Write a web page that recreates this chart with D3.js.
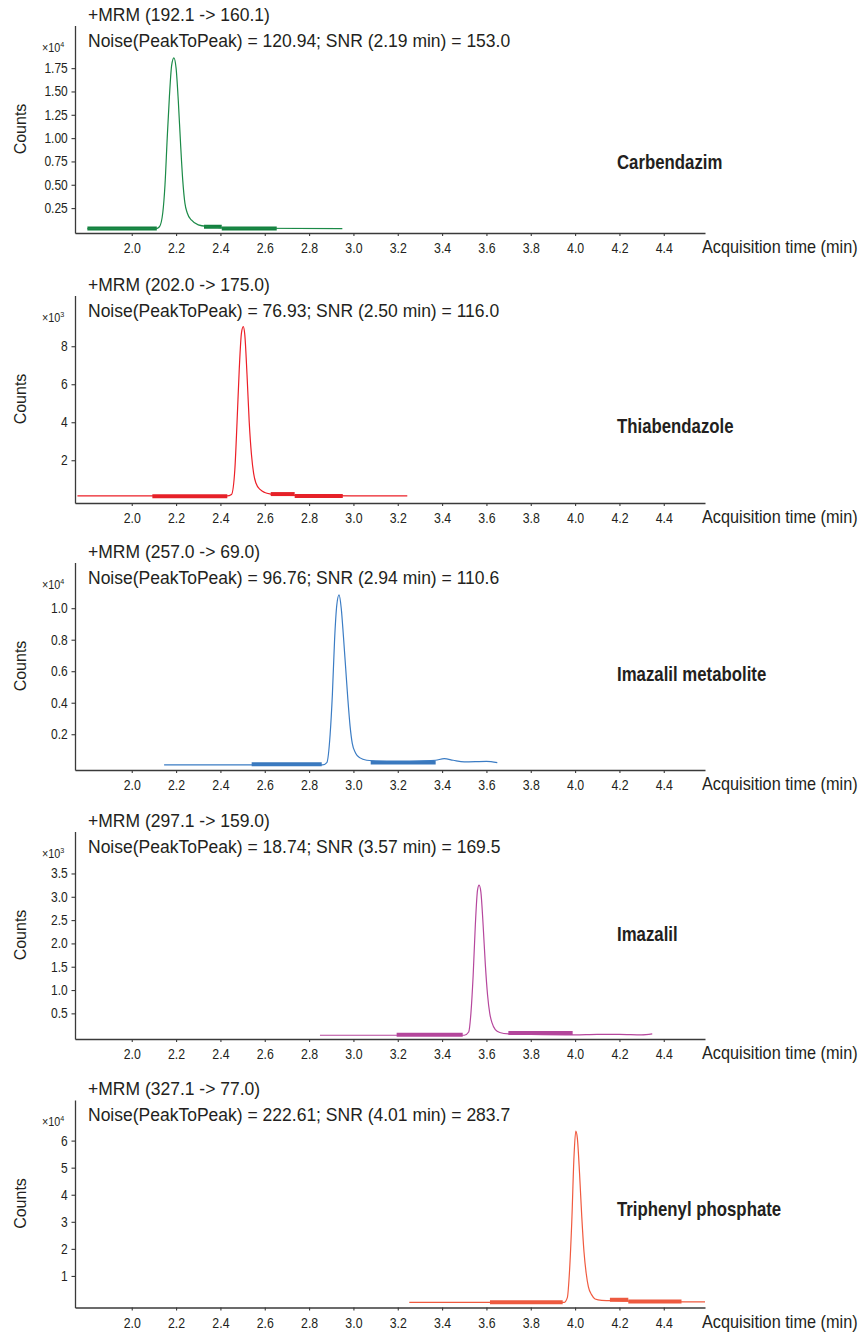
<!DOCTYPE html>
<html>
<head>
<meta charset="utf-8">
<script src="https://cdn.jsdelivr.net/npm/d3@7"></script>
<style>
  body { margin: 0; background: #fff; }
</style>
</head>
<body>
<div id="chart"></div>
<script>
// chromatogram values
const compounds = ["Carbendazim", "Thiabendazole", "Imazalil metabolite", "Imazalil", "Triphenyl phosphate"];
const transitions = ["192.1 -> 160.1", "202.0 -> 175.0", "257.0 -> 69.0", "297.1 -> 159.0", "327.1 -> 77.0"];
const noiseP2P = ["120.94", "76.93", "96.76", "18.74", "222.61"];
const snrTimes = ["2.19", "2.50", "2.94", "3.57", "4.01"];
const snrValues = ["153.0", "116.0", "110.6", "169.5", "283.7"];
const exponents = ["4", "3", "4", "3", "4"];
const colors = ["#1b8a47", "#ec1f27", "#3b7cc4", "#b6479d", "#f05a3f"];
const barColors = ["#14803f", "#e3232a", "#3a78bd", "#b3479b", "#ec5a40"];

const xTicks = [2.0, 2.2, 2.4, 2.6, 2.8, 3.0, 3.2, 3.4, 3.6, 3.8, 4.0, 4.2, 4.4];
const yTicks = [
  [0.25, 0.5, 0.75, 1.0, 1.25, 1.5, 1.75],
  [2, 4, 6, 8],
  [0.2, 0.4, 0.6, 0.8, 1.0],
  [0.5, 1.0, 1.5, 2.0, 2.5, 3.0, 3.5],
  [1, 2, 3, 4, 5, 6]
];
const yFormats = [".2f", "d", ".1f", ".1f", "d"];
const yMin = [-0.017, -0.25, -0.027, -0.05, -0.166];
const yMax = [2.207, 10.67, 1.29, 4.40, 7.50];

// traces (time in min, counts in units of the panel multiplier)
const carbendazimTime   = [1.80, 2.11, 2.125, 2.14, 2.15, 2.16, 2.17, 2.18, 2.19, 2.20, 2.21, 2.22, 2.23, 2.24, 2.25, 2.27, 2.30, 2.35, 2.45, 2.95];
const carbendazimCounts = [0.03, 0.03, 0.05, 0.2, 0.5, 1.0, 1.45, 1.78, 1.86, 1.75, 1.40, 0.95, 0.55, 0.30, 0.20, 0.12, 0.07, 0.05, 0.035, 0.03];
const thiabendazoleTime   = [1.755, 2.43, 2.45, 2.465, 2.475, 2.485, 2.495, 2.503, 2.51, 2.52, 2.53, 2.54, 2.55, 2.56, 2.58, 2.60, 2.63, 2.70, 3.243];
const thiabendazoleCounts = [0.12, 0.12, 0.2, 1.5, 4.0, 6.8, 8.7, 9.03, 8.6, 6.5, 4.0, 2.3, 1.3, 0.8, 0.45, 0.3, 0.22, 0.15, 0.12];
const metaboliteTime   = [2.146, 2.86, 2.88, 2.895, 2.905, 2.915, 2.925, 2.935, 2.945, 2.955, 2.965, 2.975, 2.985, 2.995, 3.01, 3.03, 3.06, 3.10, 3.20, 3.30, 3.37, 3.41, 3.45, 3.50, 3.60, 3.649];
const metaboliteCounts = [0.005, 0.005, 0.02, 0.2, 0.45, 0.8, 1.02, 1.084, 1.0, 0.82, 0.62, 0.42, 0.25, 0.14, 0.08, 0.05, 0.035, 0.03, 0.025, 0.03, 0.035, 0.045, 0.035, 0.025, 0.028, 0.02];
const imazalilTime   = [2.849, 3.50, 3.52, 3.53, 3.54, 3.55, 3.56, 3.567, 3.575, 3.585, 3.595, 3.605, 3.615, 3.625, 3.64, 3.66, 3.70, 3.80, 4.00, 4.10, 4.20, 4.30, 4.348];
const imazalilCounts = [0.03, 0.03, 0.1, 0.5, 1.3, 2.4, 3.15, 3.25, 3.1, 2.4, 1.55, 0.9, 0.5, 0.3, 0.15, 0.09, 0.06, 0.05, 0.04, 0.05, 0.05, 0.04, 0.06];
const tppTime   = [3.252, 3.95, 3.965, 3.975, 3.985, 3.995, 4.003, 4.01, 4.02, 4.03, 4.04, 4.05, 4.06, 4.075, 4.09, 4.12, 4.20, 4.30, 4.50, 4.586];
const tppCounts = [0.02, 0.02, 0.2, 1.2, 3.0, 5.4, 6.35, 6.1, 4.8, 3.2, 1.9, 1.1, 0.6, 0.3, 0.15, 0.1, 0.08, 0.05, 0.04, 0.04];

const traceTimes  = [carbendazimTime, thiabendazoleTime, metaboliteTime, imazalilTime, tppTime];
const traceCounts = [carbendazimCounts, thiabendazoleCounts, metaboliteCounts, imazalilCounts, tppCounts];

// noise regions [start, end, level]
const noiseRegions = [
  [[1.80, 2.113, 0.03], [2.326, 2.406, 0.05], [2.406, 2.654, 0.03]],
  [[2.093, 2.431, 0.1], [2.627, 2.735, 0.22], [2.735, 2.952, 0.12]],
  [[2.541, 2.857, 0.01], [3.078, 3.371, 0.02]],
  [[3.195, 3.493, 0.04], [3.699, 3.989, 0.08]],
  [[3.616, 3.944, 0.03], [4.157, 4.24, 0.12], [4.24, 4.48, 0.06]]
];

// layout
const width = 865, height = 1333;
const axisY = [233, 503, 770, 1039, 1307.5];
const labelY = [162, 426, 674, 934, 1209];
const plotH = 207.5;
const textColor = "#231f20";
const axisColor = "#3a3a3a";

const svg = d3.select("#chart")
  .append("svg")
  .attr("width", width)
  .attr("height", height)
  .style("font-family", "'Liberation Sans', Arial, sans-serif");

const x = d3.scaleLinear().domain([1.744, 4.586]).range([75, 705]);

// text helper, squeezed a bit to look like the condensed face of the original
function addText(g, px, py, str, size, sx, weight) {
  return g.append("text")
    .attr("transform", `translate(${px},${py}) scale(${sx},1)`)
    .attr("font-size", size)
    .attr("font-weight", weight || "normal")
    .attr("fill", textColor)
    .text(str);
}

compounds.forEach((name, i) => {
  const g = svg.append("g");
  const base = axisY[i];
  const y = d3.scaleLinear().domain([yMin[i], yMax[i]]).range([base, base - plotH]);

  // x axis
  const xa = g.append("g")
    .attr("transform", `translate(0,${base})`)
    .call(d3.axisBottom(x).tickValues(xTicks).tickSize(3).tickSizeOuter(0)
      .tickPadding(7.5).tickFormat(d3.format(".1f")));
  xa.selectAll(".tick text")
    .attr("font-size", 14)
    .attr("fill", textColor)
    .attr("transform", "scale(0.88,1)");

  // y axis
  const ya = g.append("g")
    .attr("transform", "translate(75,0)")
    .call(d3.axisLeft(y).tickValues(yTicks[i]).tickSize(3.5).tickSizeOuter(0)
      .tickFormat(d3.format(yFormats[i])));
  ya.selectAll(".tick text")
    .attr("font-size", 14)
    .attr("fill", textColor)
    .attr("x", -7.2 / 0.86)
    .attr("transform", "scale(0.86,1)");

  [xa, ya].forEach(a => {
    a.select(".domain").attr("stroke", axisColor).attr("stroke-width", 1.3);
    a.selectAll(".tick line").attr("stroke", axisColor).attr("stroke-width", 1.1);
  });

  // titles
  addText(g, 88, base - 212.5, `+MRM (${transitions[i]})`, 17.5, 1);
  addText(g, 88, base - 186.5,
    `Noise(PeakToPeak) = ${noiseP2P[i]}; SNR (${snrTimes[i]} min) = ${snrValues[i]}`, 17.5, 1);

  // multiplier
  const m = addText(g, 42, base - 181.5, "×10", 12, 0.9);
  m.append("tspan").attr("font-size", 8).attr("dy", -5).text(exponents[i]);

  // y title
  g.append("text")
    .attr("transform", `translate(26,${base - 104}) rotate(-90)`)
    .attr("text-anchor", "middle")
    .attr("font-size", 16)
    .attr("fill", textColor)
    .text("Counts");

  // x title
  addText(g, 702, base + 20, "Acquisition time (min)", 18, 0.905);

  // compound name
  addText(g, 617, labelY[i] + 7, name, 20, 0.84, "bold");

  // noise regions
  g.selectAll("line.noise")
    .data(noiseRegions[i])
    .join("line")
    .attr("class", "noise")
    .attr("x1", d => x(d[0]))
    .attr("x2", d => x(d[1]))
    .attr("y1", d => y(d[2]))
    .attr("y2", d => y(d[2]))
    .attr("stroke", barColors[i])
    .attr("stroke-width", 4);

  // trace
  const pts = traceTimes[i].map((t, k) => [t, traceCounts[i][k]]);
  g.append("path")
    .datum(pts)
    .attr("fill", "none")
    .attr("stroke", colors[i])
    .attr("stroke-width", 1.2)
    .attr("d", d3.line().x(d => x(d[0])).y(d => y(d[1])).curve(d3.curveMonotoneX));
});
</script>
</body>
</html>
